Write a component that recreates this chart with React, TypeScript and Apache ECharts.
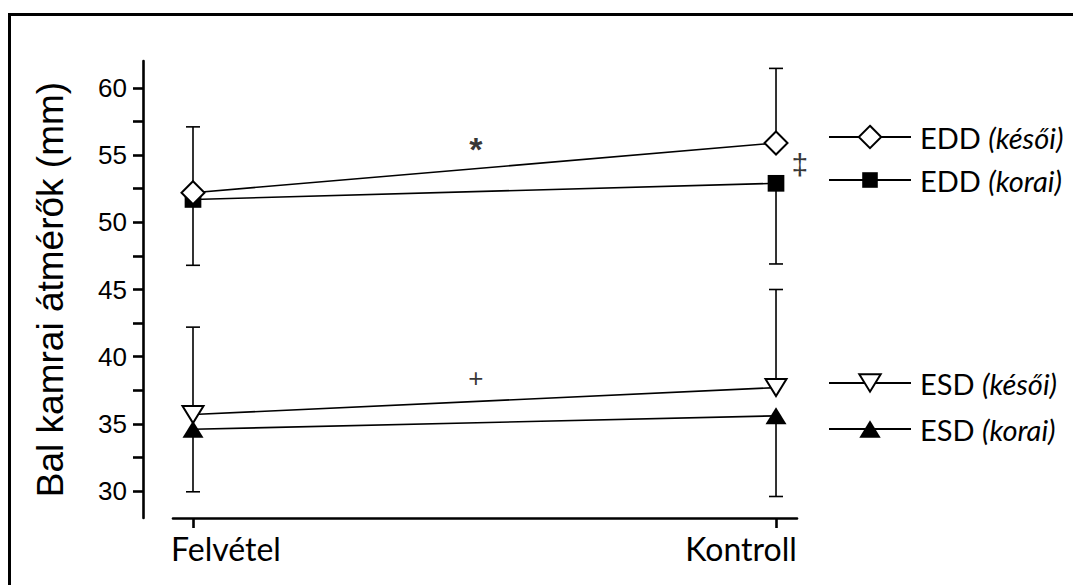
import React, { useEffect, useRef } from "react";
import * as echarts from "echarts";

// ---- data ----
const categories = ["Felvétel", "Kontroll"];
const seriesNames = ["EDD (késői)", "EDD (korai)", "ESD (késői)", "ESD (korai)"];
const eddKesoi = [52.2, 55.9];
const eddKesoiErr = [57.1, 61.45];
const eddKorai = [51.7, 52.9];
const eddKoraiErr = [46.8, 46.9];
const esdKesoi = [35.7, 37.7];
const esdKesoiErr = [42.2, 45.0];
const esdKorai = [34.6, 35.6];
const esdKoraiErr = [29.95, 29.6];
const yTickLabels = [30, 35, 40, 45, 50, 55, 60];
const yTicks = [30, 32.5, 35, 37.5, 40, 42.5, 45, 47.5, 50, 52.5, 55, 57.5, 60];
const annotations: [number, number, string, number, string][] = [
  [0.485, 55.45, "*", 34, "bold"],
  [1.041, 54.3, "‡", 30, "normal"],
  [0.485, 38.4, "+", 26, "normal"],
];

const SANS = "Liberation Sans";
const CAL = "Lato";

// symbols inside a square box (invisible M points set the box) so aspect is kept
const DOWN_TRI = "path://M0,0M22,22M0.5,2.5L21.5,2.5L11,19.5Z";
const UP_TRI = "path://M0,0M22,22M11,2.5L21.5,19.5L0.5,19.5Z";
const DIAMOND = "path://M11,0L22,11L11,22L0,11Z";
const SQUARE = "path://M0,0M23,23M3.5,3.5L19.5,3.5L19.5,19.5L3.5,19.5Z";

function toPts(vals: number[]) {
  return vals.map((v, i) => [i, v]);
}
function toErr(vals: number[], ends: number[]) {
  return vals.map((v, i) => [i, v, ends[i]]);
}

function errSeries(name: string, vals: number[], ends: number[]) {
  return {
    type: "custom",
    name: name + "_err",
    z: 1,
    silent: true,
    data: toErr(vals, ends),
    encode: { x: 0, y: [1, 2] },
    renderItem: (params: any, api: any) => {
      const x = api.value(0);
      const p0 = api.coord([x, api.value(1)]);
      const p1 = api.coord([x, api.value(2)]);
      const style = { stroke: "#000", lineWidth: 1.6, fill: "none" };
      return {
        type: "group",
        children: [
          { type: "line", shape: { x1: p0[0], y1: p0[1], x2: p1[0], y2: p1[1] }, style },
          { type: "line", shape: { x1: p1[0] - 7, y1: p1[1], x2: p1[0] + 7, y2: p1[1] }, style },
        ],
      };
    },
  };
}

function lineSeries(name: string, vals: number[], symbol: string, size: number, fill: string, z: number) {
  return {
    type: "line",
    name,
    z,
    data: toPts(vals),
    symbol,
    symbolSize: size,
    showAllSymbol: true,
    lineStyle: { color: "#000", width: 1.6 },
    itemStyle: { color: fill, borderColor: "#000", borderWidth: fill === "#fff" ? 2 : 0, opacity: 1 },
  };
}

export default function App() {
  const ref = useRef<HTMLDivElement>(null);
  useEffect(() => {
    if (!ref.current) return;
    const chart = echarts.init(ref.current, null, { renderer: "svg" });
    const legendText = {
      fontFamily: CAL,
      fontSize: 29,
      color: "#000",
      lineHeight: 30,
      rich: {
        n: { fontFamily: CAL, fontSize: 29, color: "#000", lineHeight: 30, padding: [0, 0, 0, 4] },
        i: { fontFamily: CAL, fontSize: 29, color: "#000", fontStyle: "italic", lineHeight: 30 },
      },
    };
    const legendFmt = (name: string) => {
      const idx = name.indexOf(" ");
      return "{n|" + name.slice(0, idx) + "} {i|" + name.slice(idx + 1) + "}";
    };
    chart.setOption({
      animation: false,
      backgroundColor: "#fff",
      grid: { left: 173, right: 276, top: 61, bottom: 67, containLabel: false },
      xAxis: {
        type: "value",
        min: -0.0343,
        max: 1.036,
        splitLine: { show: false },
        axisLine: { show: true, onZero: false, lineStyle: { color: "#000", width: 2.6 } },
        axisTick: { show: true, customValues: [0, 1], length: 10, lineStyle: { color: "#000", width: 2.6 } },
        axisLabel: {
          customValues: [0, 1],
          margin: 14,
          formatter: (v: number) => (Math.round(v) === 0 ? "{f|" + categories[0] + "}" : "{k|" + categories[1] + "}"),
          rich: {
            f: { fontFamily: CAL, fontSize: 32, color: "#000", padding: [0, 0, 0, 66] },
            k: { fontFamily: CAL, fontSize: 32, color: "#000", padding: [0, 70, 0, 0] },
          },
        },
      },
      yAxis: {
        type: "value",
        min: 28,
        max: 62,
        offset: 30,
        name: "Bal kamrai átmérők (mm)",
        nameLocation: "middle",
        nameGap: 74,
        nameTextStyle: { fontFamily: SANS, fontSize: 37, color: "#000" },
        splitLine: { show: false },
        axisLine: { show: true, onZero: false, lineStyle: { color: "#000", width: 2.6 } },
        axisTick: { show: true, customValues: yTicks, length: 10, lineStyle: { color: "#000", width: 2.6 } },
        axisLabel: {
          customValues: yTickLabels,
          margin: 16,
          fontFamily: SANS,
          fontSize: 26,
          color: "#000",
        },
      },
      legend: [
        {
          orient: "vertical",
          left: 828,
          top: 122,
          itemWidth: 82,
          itemHeight: 28,
          itemGap: 13,
          padding: 0,
          data: [seriesNames[0], seriesNames[1]],
          formatter: legendFmt,
          textStyle: legendText,
        },
        {
          orient: "vertical",
          left: 828,
          top: 368,
          itemWidth: 82,
          itemHeight: 28,
          itemGap: 16,
          padding: 0,
          data: [seriesNames[2], seriesNames[3]],
          formatter: legendFmt,
          textStyle: legendText,
        },
      ],
      graphic: [
        {
          type: "polyline",
          shape: { points: [[9.5, 585], [9.5, 14.5], [1073, 14.5]] },
          style: { stroke: "#000", lineWidth: 3, fill: "none" },
          silent: true,
        },
      ],
      series: [
        errSeries(seriesNames[0], eddKesoi, eddKesoiErr),
        errSeries(seriesNames[1], eddKorai, eddKoraiErr),
        errSeries(seriesNames[2], esdKesoi, esdKesoiErr),
        errSeries(seriesNames[3], esdKorai, esdKoraiErr),
        lineSeries(seriesNames[1], eddKorai, SQUARE, 24, "#000", 3),
        lineSeries(seriesNames[0], eddKesoi, DIAMOND, 23, "#fff", 4),
        lineSeries(seriesNames[3], esdKorai, UP_TRI, 22, "#000", 3),
        lineSeries(seriesNames[2], esdKesoi, DOWN_TRI, 22, "#fff", 4),
        {
          type: "scatter",
          name: "annot",
          z: 5,
          clip: false,
          silent: true,
          symbolSize: 0,
          itemStyle: { color: "#000" },
          data: annotations.map((a) => ({
            value: [a[0], a[1]],
            label: { formatter: a[2], fontSize: a[3], fontWeight: a[4], color: "#000", textBorderWidth: 0 },
          })),
          label: {
            show: true,
            position: "inside",
            fontFamily: SANS,
            fontSize: 28,
            color: "#000",
            textBorderWidth: 0,
          },
        },
      ],
    });
    return () => chart.dispose();
  }, []);
  return (
    <div
      ref={ref}
      style={{ position: "fixed", left: 0, top: 0, width: 1073, height: 585, background: "#fff" }}
    />
  );
}
